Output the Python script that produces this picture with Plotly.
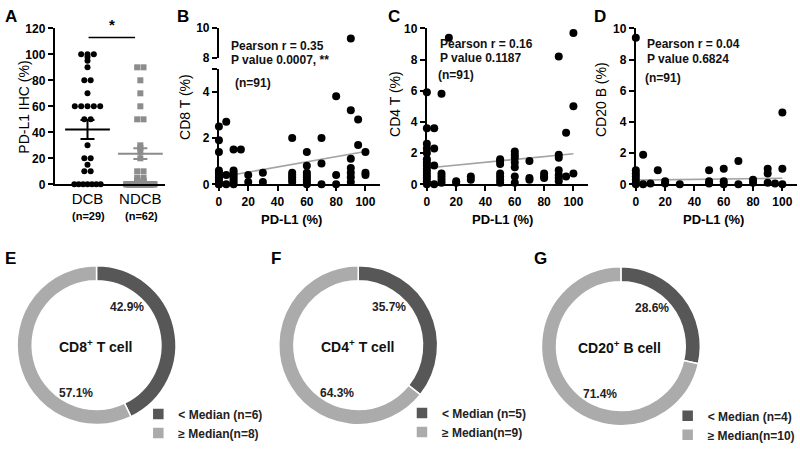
import numpy as np
import plotly.graph_objects as go

# ---------------- data ----------------
# Panel A: PD-L1 IHC (%) per group
dcb_vals = [100, 100, 100, 98, 95, 90, 80, 80, 70, 60, 60, 60, 60, 60, 50, 50, 30,
            20, 20, 15, 10, 10, 0, 0, 0, 0, 0, 0, 0]
ndcb_vals = [90, 90, 80, 70, 60, 50, 50, 30, 28, 25, 20, 10, 10, 5, 5, 3, 3, 2, 2, 1, 1] + [0] * 41
group_labels = ["DCB", "NDCB"]
group_n = ["(n=29)", "(n=62)"]
group_mean = [42.2, 23.6]
group_sem = [7.3, 4.1]

# Panel B: CD8 T (%) vs PD-L1 (%)
b_x = [0]*11 + [5]*3 + [10]*8 + [15] + [20]*2 + [30]*2 + [50]*6 + [60]*8 + [70]*3 + [80]*3 + [90]*7 + [95]*2 + [100]*3
b_y = [2.5, 1.9, 1.4, 0.6, 0.5, 0.4, 0.3, 0.2, 0.1, 0.0, 0.0,
       2.7, 0.4, 0.0,
       1.5, 0.6, 0.5, 0.4, 0.3, 0.2, 0.1, 0.0,
       1.5,
       0.4, 0.1,
       0.5, 0.1,
       2.0, 0.5, 0.4, 0.3, 0.2, 0.1,
       1.4, 0.8, 0.5, 0.4, 0.3, 0.2, 0.1, 0.0,
       2.0, 0.9, 0.0,
       3.8, 0.4, 0.0,
       9.3, 3.2, 1.1, 0.7, 0.5, 0.3, 0.1,
       2.8, 1.7,
       1.4, 0.5, 0.4]
b_fit = (0.30, 0.0112)   # intercept, slope

# Panel C: CD4 T (%) vs PD-L1 (%)
c_x = [0]*14 + [5]*4 + [10]*5 + [15] + [20]*2 + [30]*2 + [50]*7 + [60]*7 + [70]*3 + [80]*3 + [90]*7 + [95]*2 + [100]*3
c_y = [5.9, 3.6, 2.6, 2.3, 2.0, 1.6, 1.4, 1.2, 1.0, 0.8, 0.6, 0.4, 0.2, 0.0,
       3.6, 2.3, 1.2, 0.0,
       5.8, 0.7, 0.5, 0.3, 0.1,
       9.4,
       0.2, 0.1,
       0.5, 0.3,
       1.6, 1.5, 1.3, 0.7, 0.5, 0.3, 0.1,
       2.1, 1.9, 1.7, 1.4, 1.1, 0.5, 0.1,
       1.5, 0.4, 0.3,
       0.7, 0.5, 0.4,
       8.2, 1.9, 1.7, 0.9, 0.6, 0.4, 0.2,
       3.3, 0.5,
       9.7, 5.0, 0.7]
c_fit = (1.05, 0.0091)

# Panel D: CD20 B (%) vs PD-L1 (%)
d_x = [0]*7 + [5]*2 + [10] + [15] + [20]*2 + [30] + [50]*3 + [60]*3 + [70]*2 + [80]*2 + [90]*3 + [95] + [100]*3
d_y = [9.4, 0.9, 0.7, 0.5, 0.3, 0.1, 0.0,
       1.9, 0.0,
       0.05,
       0.9,
       0.2, 0.05,
       0.0,
       0.9, 0.2, 0.05,
       1.0, 0.2, 0.0,
       1.5, 0.0,
       0.3, 0.1,
       1.0, 0.7, 0.1,
       0.05,
       4.6, 1.0, 0.0]
d_fit = (0.27, 0.0012)

stats_text = [
    ["Pearson r = 0.35", "P value 0.0007, **", "(n=91)"],
    ["Pearson r = 0.16", "P value 0.1187", "(n=91)"],
    ["Pearson r = 0.04", "P value 0.6824", "(n=91)"],
]

# Panels E-G: donut counts (< Median, >= Median)
donut_titles = ["CD8<sup>+</sup> T cell", "CD4<sup>+</sup> T cell", "CD20<sup>+</sup> B cell"]
donut_below = [6, 5, 4]
donut_above = [8, 9, 10]

# ---------------- layout helpers ----------------
W, H = 800, 451
FONT = "Liberation Sans, Arial, sans-serif"
DARK = "#575757"
LIGHT = "#ababab"


def fx(p):
    return p / W


def fy(p):
    return 1 - p / H


def swarm(vals, center, step, maxhalf):
    vals = np.asarray(vals, dtype=float)
    xs = np.zeros(len(vals))
    for v in np.unique(vals):
        idx = np.where(vals == v)[0]
        k = len(idx)
        if k == 1:
            xs[idx] = center
            continue
        sp = min(step, 2 * maxhalf / (k - 1))
        xs[idx] = center + (np.arange(k) - (k - 1) / 2) * sp
    return xs


fig = go.Figure()

axis_common = dict(showgrid=False, zeroline=False, showline=True, linecolor="black", linewidth=2,
                   ticks="outside", ticklen=5, tickwidth=2, tickcolor="black",
                   tickfont=dict(family=FONT, size=12, color="black", weight="bold"))

# ---------------- Panel A ----------------
fig.add_trace(go.Scatter(x=swarm(dcb_vals, 1, 0.12, 0.25), y=dcb_vals, mode="markers",
                         marker=dict(color="black", size=6, symbol="circle"),
                         xaxis="x", yaxis="y", cliponaxis=False, showlegend=False))
fig.add_trace(go.Scatter(x=swarm(ndcb_vals, 2, 0.12, 0.27), y=ndcb_vals, mode="markers",
                         marker=dict(color="#8c8c8c", size=6, symbol="square"),
                         xaxis="x", yaxis="y", cliponaxis=False, showlegend=False))
for i, col in enumerate(["black", "#8c8c8c"]):
    fig.add_trace(go.Scatter(x=[i + 1], y=[group_mean[i]], mode="markers",
                             marker=dict(symbol="line-ew-open", size=32, color=col,
                                         line=dict(color=col, width=2)),
                             error_y=dict(type="data", array=[group_sem[i]], color=col,
                                          thickness=2, width=7),
                             xaxis="x", yaxis="y", cliponaxis=False, showlegend=False))

fig.update_layout(
    xaxis=dict(domain=[fx(52), fx(163)], range=[0.38, 2.47], anchor="y",
               tickvals=[1, 2], ticktext=group_labels, showgrid=False, zeroline=False,
               showline=True, linecolor="black", linewidth=2, ticks="",
               tickfont=dict(family=FONT, size=15, color="black")),
    yaxis=dict(domain=[fy(183), fy(22)], range=[0, 120], anchor="x",
               tickvals=[0, 20, 40, 60, 80, 100, 120], **axis_common),
)
# significance bar
fig.add_shape(type="line", xref="x", yref="y", x0=1.02, x1=1.9, y0=113, y1=113,
              line=dict(color="black", width=1.5))

# ---------------- Panels B, C, D ----------------
scatter_sets = [(b_x, b_y, b_fit), (c_x, c_y, c_fit), (d_x, d_y, d_fit)]
xids = ["x2", "x3", "x4"]
yids = ["y2", "y4", "y5"]
xtick = dict(tickvals=[0, 20, 40, 60, 80, 100])

for k in range(3):
    xs, ys, fit = scatter_sets[k]
    xs = np.asarray(xs, float)
    ys = np.asarray(ys, float)
    lx = np.array([0, 100])
    ly = fit[0] + fit[1] * lx
    fig.add_trace(go.Scatter(x=lx, y=ly, mode="lines", line=dict(color="#a3a3a3", width=1.6),
                             xaxis=xids[k], yaxis=yids[k], showlegend=False))
    if k == 0:
        low = ys <= 5
        fig.add_trace(go.Scatter(x=xs[low], y=ys[low], mode="markers",
                                 marker=dict(color="black", size=8),
                                 xaxis="x2", yaxis="y2", cliponaxis=False, showlegend=False))
        fig.add_trace(go.Scatter(x=xs[~low], y=ys[~low], mode="markers",
                                 marker=dict(color="black", size=8),
                                 xaxis="x2", yaxis="y3", cliponaxis=False, showlegend=False))
    else:
        fig.add_trace(go.Scatter(x=xs, y=ys, mode="markers",
                                 marker=dict(color="black", size=8),
                                 xaxis=xids[k], yaxis=yids[k], cliponaxis=False, showlegend=False))

fig.update_layout(
    xaxis2=dict(domain=[fx(217), fx(379)], range=[0, 110], anchor="y2", **xtick, **axis_common),
    yaxis2=dict(domain=[fy(183), fy(63.5)], range=[0, 5], anchor="x2",
                tickvals=[0, 2, 4, 5], ticktext=["0", "2", "4", ""], **axis_common),
    yaxis3=dict(domain=[fy(52.3), fy(21.7)], range=[8, 10], anchor="x2",
                tickvals=[8, 10], **axis_common),
    xaxis3=dict(domain=[fx(426), fx(588)], range=[0, 110], anchor="y4", **xtick, **axis_common),
    yaxis4=dict(domain=[fy(183), fy(22)], range=[0, 10], anchor="x3",
                tickvals=[0, 2, 4, 6, 8, 10], **axis_common),
    xaxis4=dict(domain=[fx(636), fx(798)], range=[0, 110], anchor="y5", **xtick, **axis_common),
    yaxis5=dict(domain=[fy(183), fy(22)], range=[0, 10], anchor="x4",
                tickvals=[0, 2, 4, 6, 8, 10], **axis_common),
)

# ---------------- Donuts E, F, G ----------------
centers = [(94, 349), (357, 349), (621, 350)]
R = 82
legend_pos = [(136, 405), (401, 404), (668, 407)]
legend_names = ["legend", "legend2", "legend3"]
for k in range(3):
    cx, cy = centers[k]
    vals = [donut_below[k], donut_above[k]]
    labels = [f"< Median (n={donut_below[k]})", f"\u2265 Median(n={donut_above[k]})"]
    fig.add_trace(go.Pie(values=vals, labels=labels, hole=0.81, sort=False, direction="clockwise",
                         rotation=0, textinfo="none", hoverinfo="label+percent",
                         marker=dict(colors=[DARK, LIGHT], line=dict(color="white", width=1.5)),
                         domain=dict(x=[fx(cx - R), fx(cx + R)], y=[fy(cy + R), fy(cy - R)]),
                         legend=legend_names[k], showlegend=True))
    tot = sum(vals)
    pcts = [f"{v / tot * 100:.1f}%" for v in vals]
    fig.add_annotation(x=fx(cx + 31), y=fy(cy - 39), xref="paper", yref="paper",
                       text=f"<b>{pcts[0]}</b>", xanchor="center", yanchor="middle",
                       showarrow=False, font=dict(family=FONT, size=12, color="#222"))
    fig.add_annotation(x=fx(cx - 21), y=fy(cy + 49), xref="paper", yref="paper",
                       text=f"<b>{pcts[1]}</b>", xanchor="center", yanchor="middle",
                       showarrow=False, font=dict(family=FONT, size=12, color="#222"))
    fig.add_annotation(x=fx(cx - 1), y=fy(cy + 1), xref="paper", yref="paper",
                       text=f"<b>{donut_titles[k]}</b>", xanchor="center", yanchor="middle",
                       showarrow=False, font=dict(family=FONT, size=14, color="#111"))

legend_style = dict(font=dict(family=FONT, size=12, color="#222", weight="bold"),
                    bgcolor="rgba(0,0,0,0)", itemwidth=30, tracegroupgap=0,
                    xanchor="left", yanchor="top", itemclick=False)
fig.update_layout(
    legend=dict(x=fx(legend_pos[0][0]), y=fy(legend_pos[0][1]), **legend_style),
    legend2=dict(x=fx(legend_pos[1][0]), y=fy(legend_pos[1][1]), **legend_style),
    legend3=dict(x=fx(legend_pos[2][0]), y=fy(legend_pos[2][1]), **legend_style),
)


# ---------------- text annotations ----------------
def ann(x, y, text, size=12, bold=True, angle=0, xanchor="center", color="black"):
    fig.add_annotation(x=fx(x), y=fy(y), xref="paper", yref="paper",
                       text=f"<b>{text}</b>" if bold else text, showarrow=False,
                       textangle=angle, xanchor=xanchor, yanchor="middle",
                       font=dict(family=FONT, size=size, color=color))


# panel letters
for letter, (x, y) in zip("ABCDEFG", [(8, 10), (181, 10), (393, 10), (600, 10),
                                      (8, 260), (274, 260), (540, 260)]):
    ann(x, y, letter, size=17)

# panel A texts
ann(110, 18, "*", size=15)
ann(21, 103, "PD-L1 IHC (%)", size=14, bold=False, angle=-90)
ann(86, 216, group_n[0], size=11)
ann(139, 216, group_n[1], size=11)

# y titles of B-D
ann(183, 103, "CD8 T (%)", size=14, bold=False, angle=-90)
ann(394, 100, "CD4 T (%)", size=14, bold=False, angle=-90)
ann(601, 95, "CD20 B (%)", size=14, bold=False, angle=-90)

# x titles of B-D
for x in [290, 502, 714]:
    ann(x, 219, "PD-L1 (%)", size=13)

# stats text
stat_pos = [[(227, 40), (227, 55), (231, 78)],
            [(437, 38), (437, 53), (435, 70)],
            [(645, 38), (645, 54), (643, 73)]]
for k in range(3):
    for t, (x, y) in zip(stats_text[k], stat_pos[k]):
        ann(x, y, t, size=12, xanchor="left", color="#111")

fig.update_layout(width=W, height=H, margin=dict(l=0, r=0, t=0, b=0),
                  paper_bgcolor="white", plot_bgcolor="white",
                  font=dict(family=FONT, color="black"))

fig.write_html("out.html", config={"displayModeBar": False},
               post_script="document.body.style.margin='0';document.body.style.overflow='hidden';")
